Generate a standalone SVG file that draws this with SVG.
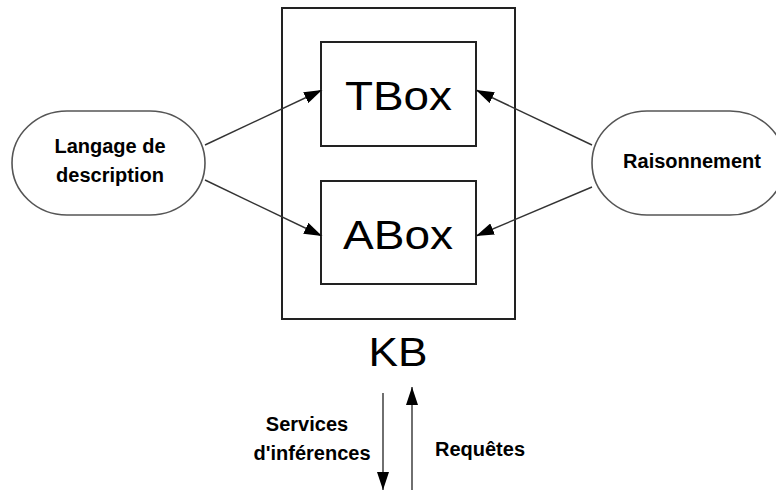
<svg xmlns="http://www.w3.org/2000/svg" width="776" height="490" viewBox="0 0 776 490">
<style>
.box{fill:#fff;stroke:#222;stroke-width:2}
.pill{fill:#fff;stroke:#555;stroke-width:1.6}
.big{font-family:"Liberation Sans",Arial,sans-serif;font-size:40px;fill:#000;text-anchor:middle}
.lbl{font-family:"Liberation Sans",Arial,sans-serif;font-size:20px;font-weight:bold;fill:#000}
.conn{stroke:#333;stroke-width:1.4;fill:none;marker-end:url(#ah)}
</style>
<defs>
<marker id="ah" markerUnits="userSpaceOnUse" markerWidth="18" markerHeight="12" refX="18" refY="6" orient="auto">
<path d="M0,0 L18,6 L0,12 z" fill="#000"/>
</marker>
</defs>
<rect width="776" height="490" fill="#fff"/>
<g id="kb">
<rect class="box" x="282" y="8" width="233" height="311"/>
<text class="big" x="398" y="366" textLength="59" lengthAdjust="spacingAndGlyphs">KB</text>
</g>
<g id="tbox">
<rect class="box" x="321" y="42" width="155" height="104"/>
<text class="big" x="398.5" y="110" textLength="107" lengthAdjust="spacingAndGlyphs">TBox</text>
</g>
<g id="abox">
<rect class="box" x="321" y="181" width="155" height="103"/>
<text class="big" x="398" y="249" textLength="110" lengthAdjust="spacingAndGlyphs">ABox</text>
</g>
<g id="langage">
<rect class="pill" x="12" y="111" width="193" height="104" rx="55" ry="52"/>
<text class="lbl" x="110" y="153" text-anchor="middle">Langage de</text>
<text class="lbl" x="110" y="182" text-anchor="middle">description</text>
</g>
<g id="raisonnement">
<rect class="pill" x="592" y="111" width="193" height="104" rx="55" ry="52"/>
<text class="lbl" x="692" y="168" text-anchor="middle">Raisonnement</text>
</g>
<g id="connectors">
<line class="conn" x1="205" y1="145" x2="322" y2="90"/>
<line class="conn" x1="205" y1="180" x2="322" y2="236"/>
<line class="conn" x1="592" y1="145" x2="476" y2="90"/>
<line class="conn" x1="592" y1="187" x2="476" y2="236"/>
<line class="conn" x1="383" y1="393" x2="383" y2="490"/>
<line class="conn" x1="412" y1="490" x2="412" y2="387"/>
</g>
<g id="labels">
<text class="lbl" x="307" y="431" text-anchor="middle">Services</text>
<text class="lbl" x="312" y="460" text-anchor="middle">d'inférences</text>
<text class="lbl" x="435" y="456">Requêtes</text>
</g>
</svg>
